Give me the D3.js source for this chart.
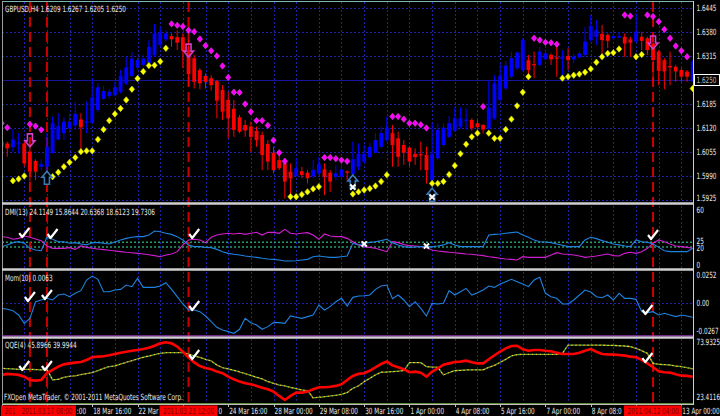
<!DOCTYPE html>
<html><head><meta charset="utf-8">
<script src="https://cdn.jsdelivr.net/npm/d3@7"></script>
<style>body{margin:0;background:#000}svg{display:block}</style>
</head><body>
<script>
// ---------- DATA ----------
const opens = [1.6083,1.6078,1.6068,1.6078,1.6078,1.6056,1.6031,1.6015,1.6015,1.6053,1.6089,1.6106,1.6119,1.6127,1.6143,1.6134,1.6134,1.6169,1.6199,1.6207,1.6209,1.6218,1.6241,1.6261,1.6283,1.6291,1.6295,1.6318,1.6345,1.6360,1.6369,1.6366,1.6366,1.6331,1.6309,1.6277,1.6261,1.6255,1.6247,1.6223,1.6196,1.6172,1.6149,1.6128,1.6124,1.6112,1.6101,1.6077,1.6053,1.6033,1.6024,1.6002,1.5990,1.6003,1.5999,1.5990,1.5997,1.6008,1.5999,1.5988,1.5988,1.6002,1.5995,1.6015,1.6029,1.6041,1.6053,1.6069,1.6087,1.6106,1.6092,1.6074,1.6067,1.6050,1.6049,1.6047,1.5979,1.6038,1.6074,1.6096,1.6113,1.6124,1.6140,1.6142,1.6133,1.6128,1.6119,1.6146,1.6196,1.6227,1.6259,1.6282,1.6277,1.6304,1.6293,1.6291,1.6306,1.6318,1.6311,1.6307,1.6315,1.6306,1.6311,1.6318,1.6358,1.6367,1.6375,1.6372,1.6363,1.6365,1.6367,1.6360,1.6354,1.6367,1.6363,1.6349,1.6327,1.6304,1.6288,1.6286,1.6277,1.6273,1.6250];
const highs = [1.6087,1.6083,1.6116,1.6106,1.6083,1.6078,1.6035,1.6035,1.6106,1.6151,1.6160,1.6149,1.6160,1.6192,1.6160,1.6192,1.6255,1.6241,1.6234,1.6225,1.6245,1.6277,1.6313,1.6327,1.6313,1.6318,1.6358,1.6402,1.6394,1.6385,1.6376,1.6384,1.6376,1.6358,1.6318,1.6282,1.6268,1.6263,1.6250,1.6236,1.6218,1.6196,1.6155,1.6142,1.6137,1.6124,1.6110,1.6087,1.6069,1.6047,1.6038,1.6024,1.6038,1.6015,1.6006,1.6033,1.6042,1.6024,1.6006,1.6020,1.6033,1.6006,1.6083,1.6078,1.6074,1.6080,1.6106,1.6124,1.6151,1.6128,1.6110,1.6087,1.6069,1.6065,1.6083,1.6069,1.6133,1.6133,1.6133,1.6152,1.6176,1.6176,1.6173,1.6146,1.6142,1.6131,1.6250,1.6263,1.6295,1.6302,1.6327,1.6327,1.6363,1.6318,1.6327,1.6340,1.6333,1.6322,1.6349,1.6331,1.6336,1.6322,1.6327,1.6394,1.6426,1.6413,1.6399,1.6376,1.6381,1.6381,1.6376,1.6367,1.6431,1.6381,1.6367,1.6376,1.6331,1.6309,1.6327,1.6291,1.6282,1.6277,1.6304];
const lows = [1.6056,1.6042,1.6056,1.6051,1.6015,1.5975,1.5979,1.6006,1.5979,1.6051,1.6087,1.6087,1.6106,1.6115,1.6060,1.6106,1.6133,1.6164,1.6196,1.6200,1.6205,1.6214,1.6236,1.6259,1.6277,1.6286,1.6291,1.6313,1.6340,1.6354,1.6340,1.6331,1.6282,1.6232,1.6227,1.6225,1.6227,1.6221,1.6146,1.6142,1.6092,1.6096,1.6106,1.6096,1.6056,1.6069,1.6006,1.6006,1.5997,1.6006,1.5929,1.5934,1.5988,1.5984,1.5970,1.5984,1.5993,1.5938,1.5947,1.5979,1.5979,1.5979,1.5990,1.6006,1.6024,1.6038,1.6051,1.6065,1.6083,1.6015,1.6015,1.6020,1.6017,1.6020,1.6006,1.5970,1.5970,1.6033,1.6069,1.6092,1.6110,1.6119,1.6115,1.6113,1.6115,1.6106,1.6115,1.6142,1.6192,1.6223,1.6255,1.6277,1.6273,1.6263,1.6255,1.6286,1.6304,1.6291,1.6259,1.6250,1.6277,1.6295,1.6309,1.6313,1.6354,1.6345,1.6322,1.6336,1.6358,1.6363,1.6313,1.6313,1.6354,1.6331,1.6318,1.6241,1.6236,1.6225,1.6236,1.6245,1.6245,1.6245,1.6245];
const closes = [1.6069,1.6065,1.6089,1.6081,1.6024,1.6002,1.6002,1.6022,1.6069,1.6133,1.6125,1.6137,1.6137,1.6158,1.6122,1.6138,1.6203,1.6230,1.6220,1.6218,1.6230,1.6261,1.6284,1.6308,1.6304,1.6308,1.6340,1.6376,1.6379,1.6376,1.6360,1.6351,1.6329,1.6266,1.6245,1.6241,1.6245,1.6236,1.6194,1.6164,1.6146,1.6115,1.6110,1.6113,1.6096,1.6087,1.6047,1.6029,1.6006,1.6011,1.5975,1.5984,1.6011,1.5993,1.5984,1.6006,1.6022,1.5988,1.5975,1.5997,1.6008,1.5999,1.6035,1.6050,1.6050,1.6069,1.6087,1.6106,1.6121,1.6074,1.6042,1.6053,1.6029,1.6041,1.6047,1.6006,1.6050,1.6115,1.6121,1.6133,1.6146,1.6146,1.6143,1.6119,1.6122,1.6116,1.6175,1.6241,1.6261,1.6289,1.6309,1.6324,1.6358,1.6277,1.6290,1.6327,1.6322,1.6306,1.6309,1.6313,1.6304,1.6313,1.6322,1.6354,1.6396,1.6385,1.6358,1.6356,1.6369,1.6369,1.6349,1.6351,1.6381,1.6356,1.6331,1.6304,1.6275,1.6273,1.6284,1.6273,1.6259,1.6259,1.6300];

// Parabolic SAR: below price (yellow) and above price (magenta)
const sarBelow = [null,null,1.5977,1.5982,1.5990,null,null,null,1.5979,1.5988,1.6000,1.6015,1.6027,1.6040,1.6056,1.6058,1.6058,1.6089,1.6116,1.6140,1.6158,1.6173,1.6196,1.6225,1.6254,1.6273,1.6289,1.6290,1.6300,1.6336,null,null,null,null,null,null,null,null,null,null,null,null,null,null,null,null,null,null,null,null,null,1.5934,1.5934,1.5940,1.5947,1.5955,1.5961,null,null,null,null,null,1.5941,1.5947,1.5952,1.5956,1.5963,1.5975,1.5993,null,null,null,null,null,null,null,1.5970,1.5970,1.5975,1.5994,1.6018,1.6050,1.6076,1.6096,1.6106,null,1.6106,1.6092,1.6092,1.6116,1.6144,1.6180,1.6217,1.6259,null,null,null,null,null,1.6255,1.6259,1.6263,1.6266,1.6271,1.6280,1.6298,1.6313,1.6322,1.6324,1.6334,null,null,1.6313,1.6319,null,null,null,null,null,null,null,null,1.6227];
const sarAbove = [1.6133,1.6121,null,null,null,1.6130,1.6125,1.6115,null,null,null,null,null,null,null,null,null,null,null,null,null,null,null,null,null,null,null,null,null,null,1.6402,1.6398,1.6395,1.6385,1.6381,1.6361,1.6343,1.6329,1.6315,1.6288,1.6257,1.6217,1.6216,1.6185,1.6164,1.6140,1.6140,1.6127,1.6087,1.6053,1.6030,null,null,null,null,null,null,1.6040,1.6040,1.6037,1.6033,1.6030,null,null,null,null,null,null,null,1.6151,1.6151,1.6144,1.6133,1.6133,1.6129,1.6120,null,null,null,null,null,null,null,null,null,1.6178,null,null,null,null,null,null,null,null,1.6363,1.6358,1.6352,1.6351,1.6347,null,null,null,null,null,null,null,null,null,null,null,1.6426,1.6423,null,null,1.6426,1.6422,1.6408,1.6387,1.6363,1.6342,1.6329,1.6313,null];

// DMI(13)
const dmiBlue = [20.4,22.2,24.6,25.6,23.9,18.6,16.8,16.1,30.2,28.1,25.6,25.6,23.9,24.6,23.2,22.2,24.6,24.6,23.9,23.2,25.3,27.4,29.1,30.2,30.9,30.9,32.6,36.8,36.1,34.4,33.3,30.9,27.4,22.2,20.4,20.4,19.6,19.3,17.5,15.1,13.3,12.3,11.6,10.5,9.8,9.1,8.1,7.4,7.0,6.3,5.3,5.3,5.6,6.3,7.0,9.8,10.5,9.8,9.1,9.1,9.8,10.5,23.9,22.2,23.9,24.9,25.6,26.7,28.1,24.6,22.2,20.4,19.6,20.0,20.4,20.4,20.4,21.1,22.2,24.6,22.2,20.4,20.4,20.4,20.4,20.4,32.6,33.3,33.7,34.4,35.1,35.8,32.6,30.2,27.4,25.6,25.3,24.6,23.2,21.8,20.4,20.4,20.4,27.4,30.2,28.8,26.7,24.9,23.2,22.2,21.1,20.4,27.4,25.6,24.9,23.2,19.6,16.1,15.1,15.1,15.1,15.1,18.6];
const dmiMagenta = [30.9,30.2,28.1,29.1,31.6,30.2,28.4,26.7,21.1,18.6,18.6,18.6,19.3,17.5,21.1,19.6,18.6,17.9,17.2,16.5,15.8,15.1,14.4,14.0,13.3,12.6,11.9,10.9,9.8,11.6,12.6,15.1,22.2,27.4,28.1,27.4,24.6,30.2,32.6,33.7,34.4,33.7,34.4,33.3,34.4,35.4,32.6,35.4,35.4,34.4,38.6,34.4,33.7,34.4,35.1,32.6,28.1,33.7,31.6,30.9,30.9,29.1,25.6,22.2,20.4,19.6,18.6,16.8,15.1,25.6,24.6,22.5,21.4,21.1,20.4,19.3,16.8,15.8,15.1,14.4,14.0,13.3,12.6,12.3,11.6,10.9,9.8,9.1,8.1,7.4,7.0,6.3,9.8,9.1,9.1,9.1,9.1,11.6,14.0,12.6,12.3,11.6,10.5,9.1,9.8,10.5,11.6,12.6,10.9,10.5,13.3,14.4,13.3,15.1,18.6,23.9,27.4,25.6,23.2,21.1,20.4,19.6,18.6];
const dmiLevels = [25, 20];

// Momentum(10)
const momentum = [-0.0051,-0.0060,-0.0072,-0.0111,-0.0186,-0.0141,0.0009,0.0024,0.0039,0.0024,0.0069,0.0078,0.0054,0.0084,0.0108,0.0204,0.0240,0.0210,0.0099,0.0099,0.0114,0.0120,0.0159,0.0144,0.0219,0.0138,0.0138,0.0138,0.0150,0.0180,0.0120,0.0054,-0.0012,-0.0066,-0.0066,-0.0081,-0.0120,-0.0171,-0.0222,-0.0246,-0.0261,-0.0276,-0.0240,-0.0141,-0.0180,-0.0201,-0.0240,-0.0216,-0.0180,-0.0180,-0.0186,-0.0120,-0.0132,-0.0141,-0.0126,-0.0111,-0.0021,-0.0066,-0.0036,0.0009,0.0039,-0.0030,0.0048,0.0060,0.0063,0.0069,0.0120,0.0150,0.0159,0.0036,0.0069,0.0024,-0.0036,0.0009,-0.0051,-0.0120,-0.0006,-0.0012,-0.0006,0.0108,0.0069,0.0099,0.0129,0.0069,0.0090,0.0114,0.0150,0.0138,0.0168,0.0189,0.0210,0.0189,0.0168,0.0144,0.0204,0.0228,0.0084,0.0054,0.0039,-0.0012,-0.0012,0.0024,0.0069,0.0114,0.0096,0.0054,0.0045,0.0069,0.0024,0.0084,0.0039,0.0039,0.0030,-0.0081,-0.0090,-0.0081,-0.0111,-0.0096,-0.0111,-0.0126,-0.0111,-0.0120,-0.0132];

// QQE(4)
const qqeFast = [45.6,46.4,46.1,45.6,44.2,41.6,41.1,41.6,46.9,49.5,52.1,53.9,54.7,55.3,55.8,57.4,59.5,60.0,60.3,61.1,62.1,63.1,63.9,64.7,65.3,66.0,67.1,68.6,70.5,71.3,70.5,67.9,63.9,59.2,55.5,52.6,51.1,50.0,48.2,46.9,44.2,42.1,40.3,39.0,38.2,36.9,35.5,34.2,32.4,29.0,25.8,29.0,31.6,31.6,32.4,34.2,35.8,35.8,36.3,36.9,38.2,41.6,44.8,46.4,46.9,49.0,51.6,54.2,56.1,53.1,51.6,50.0,47.7,48.2,47.4,44.2,48.2,50.8,53.7,54.7,55.8,56.1,56.8,55.5,54.7,54.7,57.9,61.1,63.9,66.5,68.4,68.6,65.8,64.7,65.3,65.3,64.7,64.2,63.1,62.1,62.1,62.1,63.1,64.7,66.0,63.9,62.1,61.8,61.6,61.3,60.8,60.0,59.5,57.4,54.7,51.6,48.5,47.7,47.4,46.1,45.0,44.8,44.2];
const qqeSlow = [50.8,50.5,50.3,50.0,50.0,50.0,49.8,49.5,50.0,41.6,42.1,43.7,44.5,44.8,45.8,46.6,47.4,49.0,50.8,52.1,52.6,54.2,55.5,56.8,58.2,59.5,60.5,61.6,62.6,63.1,63.1,63.1,63.1,62.1,60.5,59.5,57.9,56.6,53.4,51.3,50.3,49.2,47.9,46.6,45.3,43.7,42.4,40.3,39.0,37.6,36.9,35.8,34.7,33.7,33.2,27.4,27.9,28.4,29.0,29.5,30.3,31.6,35.0,36.9,40.3,42.9,45.6,47.7,47.9,48.2,48.5,49.0,55.3,55.3,55.3,52.1,51.8,51.6,45.6,47.4,49.0,49.2,49.5,49.5,49.5,49.5,51.6,53.1,55.5,57.9,60.5,61.6,61.8,61.8,61.8,61.8,61.8,61.8,61.8,62.6,69.1,69.1,69.1,69.1,69.1,69.1,69.1,68.9,68.9,68.6,68.4,67.9,66.5,64.7,62.6,54.7,53.9,53.7,53.4,52.6,52.1,51.3,50.3];

// Signal markers
const downArrowIdx = [5, 33, 115], downArrowPrice = [1.6069, 1.6312, 1.6334];
const upArrowIdx = [8, 62, 76], upArrowPrice = [1.6003, 1.5993, 1.5957];
const priceCrossIdx = [62, 76], priceCrossPrice = [1.5960, 1.5933];
const dmiCheckIdx = [4, 9, 34, 115], dmiCheckVal = [34.7, 33.7, 33.7, 32.6];
const dmiCrossIdx = [64, 75], dmiCrossVal = [23.2, 21.0];
const momCheckIdx = [5, 8, 34, 114], momCheckVal = [0.0051, 0.0069, -0.0030, -0.0066];
const qqeCheckIdx = [4, 8, 34, 114], qqeCheckVal = [52.6, 52.6, 61.3, 58.9];
const vLineIdx = [5, 8, 33, 115];
const vLineLabels = ["2011.03.16 20:00", "2011.03.17 08:00", "2011.03.23 12:00", "2011.04.12 04:00"];

// Axis ticks
const priceTicks = [1.6445, 1.6380, 1.6315, 1.6250, 1.6185, 1.6120, 1.6055, 1.5990, 1.5925];
const bidPrice = 1.6250;
const dmiTicks = [60, 25, 20, 0];
const momTicks = [0.0252, 0.00, -0.0267];
const momTickLabels = ["0.0252", "0.00", "-0.0267"];
const qqeTicks = [73.9325, 23.4116];
const timeTickIdx = [0, 8, 16, 24, 32, 40, 48, 56, 64, 72, 80, 88, 96, 104, 112, 120];
const timeTickLabels = ["16 Mar 00:00","17 Mar 08:00","18 Mar 16:00","22 Mar 00:00","23 Mar 08:00","24 Mar 16:00","28 Mar 00:00","29 Mar 08:00","30 Mar 16:00","1 Apr 00:00","4 Apr 08:00","5 Apr 16:00","7 Apr 00:00","8 Apr 08:00","11 Apr 16:00","13 Apr 00:00"];

const titles = {
  price: "GBPUSD,H4  1.6209 1.6267 1.6205 1.6250",
  dmi: "DMI(13) 24.1149 15.8644 20.6368 18.6123 19.7306",
  mom: "Mom(10) 0.0063",
  qqe: "QQE(4) 45.8966 39.9944",
  copy: "FXOpen MetaTrader, © 2001-2011 MetaQuotes Software Corp."
};

// ---------- LAYOUT ----------
const W = 720, H = 416, L = 2, R = 693;
const P = {price:[2,202], dmi:[206,268], mom:[272,335], qqe:[339,403]};
const n = opens.length;
const x = d3.scaleLinear().domain([0, 122]).range([1.6, 692.7]);
const yP = d3.scaleLinear().domain([1.5925, 1.6445]).range([200, 8]);
const yD = d3.scaleLinear().domain([0, 60]).range([266, 209]);
const yM = d3.scaleLinear().domain([-0.0267, 0.0252]).range([332.3, 274.7]);
const yQ = d3.scaleLinear().domain([23.4116, 73.9325]).range([403, 339]);

const svg = d3.select('body').append('svg').attr('width', W).attr('height', H).style('background', '#000');
const defs = svg.append('defs');
Object.entries(P).forEach(([k, [t, b]]) => {
  defs.append('clipPath').attr('id', 'clip-' + k).append('rect').attr('x', L).attr('y', t).attr('width', R - L).attr('height', b - t);
});
const FONT = "'DejaVu Sans', Verdana, sans-serif";
const SX = 0.665;
function txt(g, xx, yy, s, o = {}) {
  return g.append('text')
    .attr('transform', `translate(${xx},${yy}) scale(${o.sx || SX},1)`)
    .attr('font-family', FONT).attr('font-size', o.fs || 8.6)
    .attr('fill', o.fill || '#e6e6e6').attr('text-anchor', o.anchor || 'start')
    .attr('dominant-baseline', 'central').text(s);
}
// draw only the part of a label that is not covered by later opaque boxes
function visibleTxt(g, xx, yy, s, occluders, o = {}) {
  const t = txt(g, xx, yy, s, o);
  const node = t.node();
  const N = s.length;
  let best = null, cur = null;
  for (let c = 0; c < N; c++) {
    const a = xx + node.getStartPositionOfChar(c).x * SX, b = node.getEndPositionOfChar(c).x * SX + xx;
    const hidden = occluders.some(([o0, o1]) => b > o0 + 0.8 && a < o1 - 0.8);
    if (!hidden) { if (!cur) cur = {s: c, e: c, x: a}; else cur.e = c; }
    else { if (cur && (!best || cur.e - cur.s > best.e - best.s)) best = cur; cur = null; }
  }
  if (cur && (!best || cur.e - cur.s > best.e - best.s)) best = cur;
  t.remove();
  if (!best) return;
  const part = s.slice(best.s, best.e + 1).trim();
  if (!part) return;
  const lead = s.slice(best.s, best.e + 1).length - s.slice(best.s, best.e + 1).trimStart().length;
  txt(g, best.x + lead * 2, yy, part, Object.assign({}, o, {anchor: 'start'}));
}
const GRID = '#1f1fa8';
const gGrid = svg.append('g');
const gridIdx = d3.range(0, n, 4);
Object.values(P).forEach(([t, b]) => {
  gGrid.selectAll(null).data(gridIdx).join('line')
    .attr('x1', i => Math.round(x(i)) + 0.5).attr('x2', i => Math.round(x(i)) + 0.5)
    .attr('y1', t).attr('y2', b).attr('stroke', GRID).attr('stroke-dasharray', '2,2');
});
gGrid.selectAll(null).data(priceTicks.filter(p => p !== bidPrice)).join('line')
  .attr('x1', L).attr('x2', R).attr('y1', p => Math.round(yP(p)) + 0.5).attr('y2', p => Math.round(yP(p)) + 0.5)
  .attr('stroke', GRID).attr('stroke-dasharray', '2,2');
gGrid.append('line').attr('x1', L).attr('x2', R).attr('y1', Math.round(yM(0)) + 0.5).attr('y2', Math.round(yM(0)) + 0.5)
  .attr('stroke', GRID).attr('stroke-dasharray', '2,2');
gGrid.append('line').attr('x1', L).attr('x2', R).attr('y1', Math.round(yP(bidPrice)) + 0.5).attr('y2', Math.round(yP(bidPrice)) + 0.5)
  .attr('stroke', '#16169a').attr('stroke-width', 1.2);
gGrid.selectAll(null).data(dmiLevels).join('line')
  .attr('x1', L).attr('x2', R).attr('y1', v => yD(v)).attr('y2', v => yD(v))
  .attr('stroke', '#2a9a6a').attr('stroke-width', 1.6).attr('stroke-dasharray', '2,2');

const gV = svg.append('g');
gV.selectAll(null).data(vLineIdx).join('line')
  .attr('x1', i => x(i)).attr('x2', i => x(i)).attr('y1', 2).attr('y2', 404)
  .attr('stroke', '#cc0000').attr('stroke-width', 2).attr('stroke-dasharray', '10,5');

// ---------- PRICE PANEL ----------
const gP = svg.append('g').attr('clip-path', 'url(#clip-price)');
const BLUE = '#0000ff', RED = '#ff0000';
const col = i => closes[i] >= opens[i] ? BLUE : RED;
const idx = d3.range(n);
gP.selectAll('line.w').data(idx).join('line').attr('class', 'w')
  .attr('x1', i => x(i)).attr('x2', i => x(i)).attr('y1', i => yP(highs[i])).attr('y2', i => yP(lows[i]))
  .attr('stroke', col).attr('stroke-width', 1);
const bw = 3.8;
gP.selectAll('rect.b').data(idx).join('rect').attr('class', 'b')
  .attr('x', i => x(i) - bw / 2).attr('width', bw)
  .attr('y', i => yP(Math.max(opens[i], closes[i])))
  .attr('height', i => Math.max(1.2, Math.abs(yP(opens[i]) - yP(closes[i]))))
  .attr('fill', col);
const diamond = (cx, cy) => `M${cx},${cy - 3.2}L${cx + 2.7},${cy}L${cx},${cy + 3.2}L${cx - 2.7},${cy}Z`;
gP.selectAll('path.sb').data(idx.filter(i => sarBelow[i] != null)).join('path')
  .attr('d', i => diamond(x(i), yP(sarBelow[i]))).attr('fill', '#ffff00').attr('stroke', '#c8e000').attr('stroke-width', 0.6);
gP.selectAll('path.sa').data(idx.filter(i => sarAbove[i] != null)).join('path')
  .attr('d', i => diamond(x(i), yP(sarAbove[i]))).attr('fill', '#ff00ff').attr('stroke', '#e040e0').attr('stroke-width', 0.6);
const downArrow = (cx, ty) => `M${cx - 2.5},${ty - 13}H${cx + 2.5}V${ty - 6}H${cx + 5}L${cx},${ty}L${cx - 5},${ty - 6}H${cx - 2.5}Z`;
const upArrow = (cx, ty) => `M${cx - 2.5},${ty + 13}H${cx + 2.5}V${ty + 6}H${cx + 5}L${cx},${ty}L${cx - 5},${ty + 6}H${cx - 2.5}Z`;
gP.selectAll('path.da').data(downArrowIdx).join('path')
  .attr('d', (i, k) => downArrow(x(i), yP(downArrowPrice[k]))).attr('fill', 'none').attr('stroke', '#d040c8').attr('stroke-width', 1.6);
gP.selectAll('path.ua').data(upArrowIdx).join('path')
  .attr('d', (i, k) => upArrow(x(i), yP(upArrowPrice[k]))).attr('fill', '#000').attr('stroke', '#3a78b8').attr('stroke-width', 1.6);
const cross = (cx, cy) => `M${cx - 2.6},${cy - 2.6}L${cx + 2.6},${cy + 2.6}M${cx + 2.6},${cy - 2.6}L${cx - 2.6},${cy + 2.6}`;
gP.selectAll('path.cx').data(priceCrossIdx).join('path')
  .attr('d', (i, k) => cross(x(i), yP(priceCrossPrice[k]))).attr('stroke', '#fff').attr('stroke-width', 2);

// ---------- INDICATORS ----------
const line = (ys, arr) => d3.line().x((d, i) => x(i)).y(d => ys(d))(arr);
const gD = svg.append('g').attr('clip-path', 'url(#clip-dmi)');
gD.append('path').attr('d', line(yD, dmiMagenta)).attr('fill', 'none').attr('stroke', '#d21ed2').attr('stroke-width', 1.1);
gD.append('path').attr('d', line(yD, dmiBlue)).attr('fill', 'none').attr('stroke', '#1e82e0').attr('stroke-width', 1.1);
const gM = svg.append('g').attr('clip-path', 'url(#clip-mom)');
gM.append('path').attr('d', line(yM, momentum)).attr('fill', 'none').attr('stroke', '#1e82e0').attr('stroke-width', 1.1);
const gQ = svg.append('g').attr('clip-path', 'url(#clip-qqe)');
gQ.append('path').attr('d', line(yQ, qqeSlow)).attr('fill', 'none').attr('stroke', '#48a840').attr('stroke-width', 1.3).attr('stroke-dasharray', '2,2');
gQ.append('path').attr('d', line(yQ, qqeSlow)).attr('fill', 'none').attr('stroke', '#ffc828').attr('stroke-width', 1.3).attr('stroke-dasharray', '2,2').attr('stroke-dashoffset', 2);
gQ.append('path').attr('d', line(yQ, qqeFast)).attr('fill', 'none').attr('stroke', '#ff0000').attr('stroke-width', 2.6);

const check = (cx, cy) => `M${cx - 5},${cy}L${cx - 2},${cy + 4}L${cx + 5},${cy - 5}`;
function checks(g, ids, vals, ys) {
  g.selectAll(null).data(ids).join('path').attr('d', (i, k) => check(x(i), ys(vals[k])))
    .attr('fill', 'none').attr('stroke', '#fff').attr('stroke-width', 2.2).attr('stroke-linejoin', 'round');
}
const gMk = svg.append('g');
checks(gMk, dmiCheckIdx, dmiCheckVal, yD);
checks(gMk, momCheckIdx, momCheckVal, yM);
checks(gMk, qqeCheckIdx, qqeCheckVal, yQ);
gMk.selectAll(null).data(dmiCrossIdx).join('path')
  .attr('d', (i, k) => cross(x(i), yD(dmiCrossVal[k]))).attr('stroke', '#fff').attr('stroke-width', 2);

// ---------- FRAME / SEPARATORS ----------
const gF = svg.append('g');
gF.append('line').attr('x1', L).attr('x2', R).attr('y1', 1.5).attr('y2', 1.5).attr('stroke', '#7fb4b4');
gF.append('line').attr('x1', L + 0.5).attr('x2', L + 0.5).attr('y1', 1).attr('y2', 404).attr('stroke', '#9a9a9a');
gF.append('line').attr('x1', R + 0.5).attr('x2', R + 0.5).attr('y1', 1).attr('y2', 405).attr('stroke', '#d0d0d0');
[203.5, 269.5, 337.5].forEach(yy => {
  gF.append('line').attr('x1', L).attr('x2', R).attr('y1', yy).attr('y2', yy).attr('stroke', '#cfcfcf').attr('stroke-width', 2.4);
});
gF.append('line').attr('x1', L).attr('x2', R).attr('y1', 335.8).attr('y2', 335.8).attr('stroke', '#a040c0').attr('stroke-width', 1);
gF.append('line').attr('x1', L).attr('x2', R).attr('y1', 403.5).attr('y2', 403.5).attr('stroke', '#5a8a3a').attr('stroke-width', 1);
gF.append('line').attr('x1', L).attr('x2', R).attr('y1', 404.5).attr('y2', 404.5).attr('stroke', '#c0c0c0').attr('stroke-width', 1);

// ---------- AXES ----------
const gA = svg.append('g');
priceTicks.forEach(p => {
  if (p === bidPrice) return;
  txt(gA, 696.5, p === 1.5925 ? yP(p) - 1.5 : yP(p), p.toFixed(4));
});
const by = yP(bidPrice);
gA.append('rect').attr('x', 694.5).attr('y', by - 5.5).attr('width', 25).attr('height', 11).attr('fill', '#000').attr('stroke', '#ffffff');
txt(gA, 696.5, by, bidPrice.toFixed(4), {fill: '#b8b8b8'});
txt(gA, 696.5, yD(60) + 1, "60");
txt(gA, 696.5, yD(25) - 1.5, "25");
txt(gA, 696.5, yD(20) + 1.5, "20");
txt(gA, 696.5, yD(0) - 1, "0");
txt(gA, 696.5, yM(momTicks[0]), momTickLabels[0]);
txt(gA, 696.5, yM(momTicks[1]), momTickLabels[1]);
txt(gA, 696.5, yM(momTicks[2]) - 1.6, momTickLabels[2]);
txt(gA, 696.5, Math.max(yQ(qqeTicks[0]), 341.8), qqeTicks[0].toFixed(4));
txt(gA, 696.5, Math.min(yQ(qqeTicks[1]), 397.5), qqeTicks[1].toFixed(4));

// time axis
const gT = svg.append('g');
gT.selectAll(null).data(timeTickIdx).join('line')
  .attr('x1', i => Math.round(x(i)) + 0.5).attr('x2', i => Math.round(x(i)) + 0.5)
  .attr('y1', 404).attr('y2', 407).attr('stroke', '#c0c0c0');
const BOXW = 58;
const boxes = vLineIdx.map(i => [x(i) - BOXW / 2, x(i) + BOXW / 2]);
timeTickIdx.forEach((i, k) => visibleTxt(gT, x(i) + 1, 411, timeTickLabels[k], boxes));
vLineIdx.forEach((i, k) => {
  const [b0, b1] = boxes[k];
  gT.append('rect').attr('x', b0).attr('y', 405.5).attr('width', BOXW).attr('height', 11).attr('fill', '#ff0000');
  const tw = 51;
  visibleTxt(gT, x(i) - tw / 2, 411, vLineLabels[k], boxes.slice(k + 1), {fill: '#7a0000'});
});

// titles
txt(svg, 5, 9, titles.price);
txt(svg, 5, 212, titles.dmi);
txt(svg, 5, 278.5, titles.mom);
txt(svg, 5, 345.5, titles.qqe);
txt(svg, 4, 397.5, titles.copy);
</script>
</body></html>
